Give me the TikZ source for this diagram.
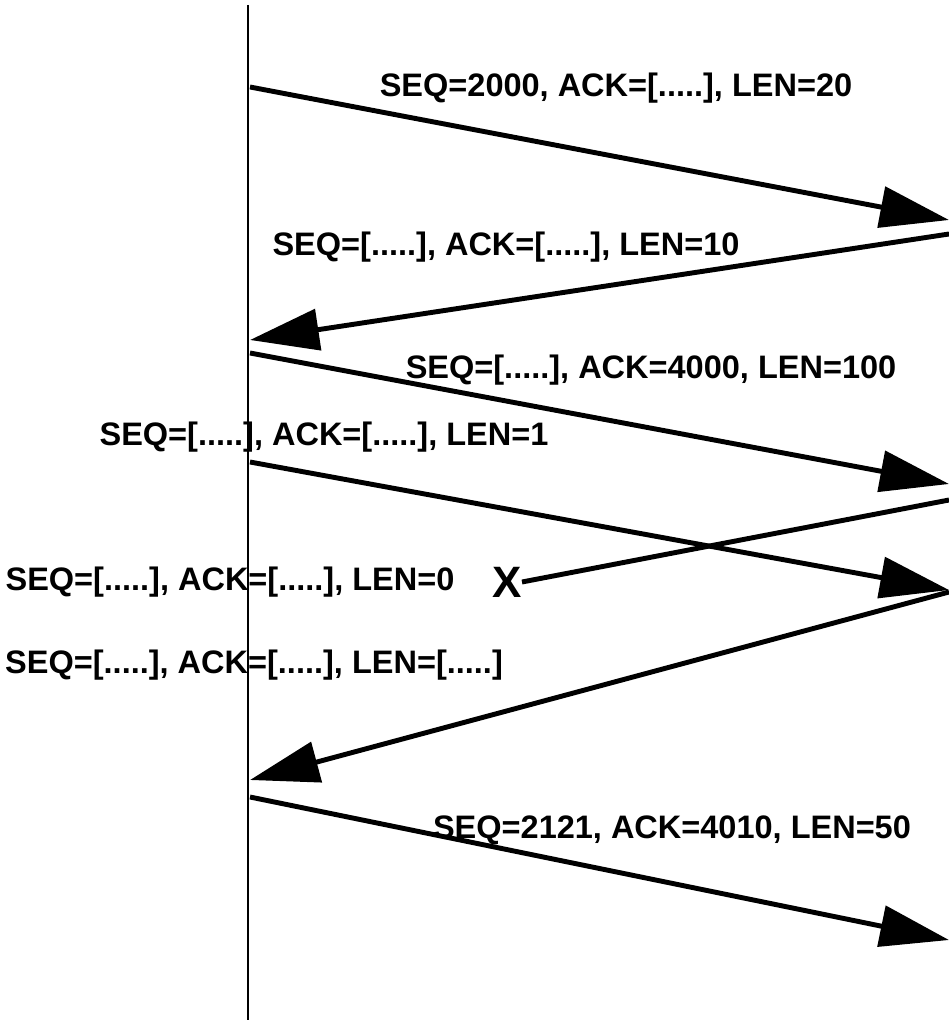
\documentclass[tikz,border=0pt]{standalone}
\usepackage{fontspec}
\setmainfont{Liberation Sans}
\usetikzlibrary{arrows.meta}

\tikzset{
  msg/.style={line width=2.8pt,-{Triangle[length=1.38cm,width=0.82cm]}},
  lbl/.style={font=\fontsize{18.5}{21}\selectfont\bfseries,inner sep=0pt}
}

\begin{document}
\begin{tikzpicture}[x=0.02cm,y=-0.02cm]
\useasboundingbox (0,0) rectangle (949,1020);

% Time line of the host
\coordinate (top) at (248,5);
\coordinate (bottom) at (248,1020);
\draw[line width=1.7pt] (top) -- (bottom);

% End points on the host side
\coordinate (h1) at (250,87);
\coordinate (h2) at (250,340);
\coordinate (h3) at (250,353);
\coordinate (h4) at (250,462);
\coordinate (h6) at (250,780);
\coordinate (h7) at (250,797);

% End points on the far side
\coordinate (f1) at (949,220);
\coordinate (f2) at (949,234);
\coordinate (f3) at (949,484);
\coordinate (f4) at (949,590);
\coordinate (f5) at (949,500);
\coordinate (f6) at (949,592);
\coordinate (f7) at (949,940);

% Segment labels
\node[lbl] (seg1) at (616,88) {SEQ=2000, ACK=[.....], LEN=20};
\node[lbl] (seg2) at (506,247) {SEQ=[.....], ACK=[.....], LEN=10};
\node[lbl] (seg3) at (651,370) {SEQ=[.....], ACK=4000, LEN=100};
\node[lbl] (seg4) at (324,437) {SEQ=[.....], ACK=[.....], LEN=1};
\node[lbl] (seg5) at (230,582) {SEQ=[.....], ACK=[.....], LEN=0};
\node[lbl] (seg6) at (254,665) {SEQ=[.....], ACK=[.....], LEN=[.....]};
\node[lbl] (seg7) at (672,830) {SEQ=2121, ACK=4010, LEN=50};

% Lost segment
\node[font=\fontsize{25}{27}\selectfont\bfseries,inner sep=0pt] (lost) at (507,582) {X};

% Segments
\draw[msg] (h1) -- (f1);
\draw[msg] (f2) -- (h2);
\draw[msg] (h3) -- (f3);
\draw[msg] (h4) -- (f4);
\draw[line width=2.8pt] (f5) -- (lost.east);
\draw[msg] (f6) -- (h6);
\draw[msg] (h7) -- (f7);

\end{tikzpicture}
\end{document}
